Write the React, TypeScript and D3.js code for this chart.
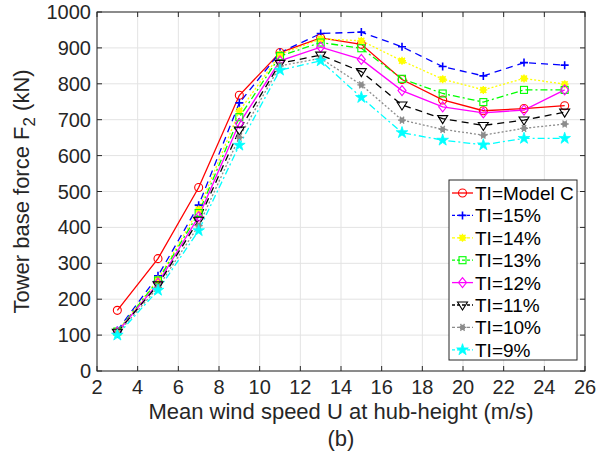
import React from 'react';
import * as d3 from 'd3';

const windSpeeds = [3, 5, 7, 9, 11, 13, 15, 17, 19, 21, 23, 25];
const modelC = [169, 313, 511, 768, 887, 928, 910, 812, 755, 725, 731, 739];
const ti15 = [113, 265, 462, 747, 887, 940, 944, 903, 848, 822, 859, 852];
const ti14 = [110, 255, 450, 724, 882, 925, 920, 864, 813, 783, 815, 799];
const ti13 = [110, 252, 440, 707, 877, 915, 899, 814, 773, 749, 783, 783];
const ti12 = [108, 245, 430, 690, 864, 902, 868, 781, 736, 719, 727, 783];
const ti11 = [108, 240, 420, 671, 857, 880, 834, 741, 703, 684, 699, 721];
const ti10 = [104, 233, 405, 651, 850, 871, 797, 699, 673, 657, 676, 688];
const ti9 = [100, 225, 391, 629, 838, 864, 762, 664, 643, 630, 648, 648];

const seriesNames = ['TI=Model C', 'TI=15%', 'TI=14%', 'TI=13%', 'TI=12%', 'TI=11%', 'TI=10%', 'TI=9%'];
const xTicks = [2, 4, 6, 8, 10, 12, 14, 16, 18, 20, 22, 24, 26];
const yTicks = [0, 100, 200, 300, 400, 500, 600, 700, 800, 900, 1000];

const styles = [
  { color: '#ff0000', dash: null, marker: 'circle' },
  { color: '#0000ff', dash: '7,5', marker: 'plus' },
  { color: '#ffff00', dash: '2,2', marker: 'asterisk' },
  { color: '#00ff00', dash: '7,3,2,3', marker: 'square' },
  { color: '#ff00ff', dash: null, marker: 'diamond' },
  { color: '#000000', dash: '7,5', marker: 'triangle' },
  { color: '#8c8c8c', dash: '2,2', marker: 'hexagram' },
  { color: '#00ffff', dash: '7,3,2,3', marker: 'star' },
];

const W = 598;
const H = 460;
const m = { left: 97, top: 12, right: 13, bottom: 89 };
const font = 'Liberation Sans, Arial, Helvetica, sans-serif';
const axisColor = '#262626';

const Marker = ({ type, x, y, color }: { type: string; x: number; y: number; color: string }) => {
  const r = 4;
  const t = `translate(${x},${y})`;
  if (type === 'circle') return <circle cx={x} cy={y} r={r} fill="none" stroke={color} strokeWidth={1.1} />;
  if (type === 'plus')
    return <path transform={t} d={`M${-r},0H${r}M0,${-r}V${r}`} stroke={color} strokeWidth={1.6} fill="none" />;
  if (type === 'asterisk')
    return (
      <g transform={t}>
        <path d={d3.symbol(d3.symbolCircle, 30)() as string} fill={color} />
        <path d={`M${-r},0H${r}M0,${-r}V${r}M-3,-3L3,3M-3,3L3,-3`} stroke={color} strokeWidth={1.4} />
      </g>
    );
  if (type === 'square')
    return <rect x={x - 3.5} y={y - 3.5} width={7} height={7} fill="none" stroke={color} strokeWidth={1.1} />;
  if (type === 'diamond')
    return <path transform={t} d={`M0,${-r - 1}L${r},0L0,${r + 1}L${-r},0Z`} fill="none" stroke={color} strokeWidth={1.1} />;
  if (type === 'triangle')
    return <path transform={t} d={`M${-r - 1},${-r + 1}L${r + 1},${-r + 1}L0,${r + 1}Z`} fill="none" stroke={color} strokeWidth={1.1} />;
  if (type === 'hexagram')
    return (
      <g transform={t}>
        <path d={d3.symbol(d3.symbolCircle, 22)() as string} fill={color} />
        <path d={`M${-r},0H${r}M-2,-3.5L2,3.5M-2,3.5L2,-3.5`} stroke={color} strokeWidth={1.3} />
      </g>
    );
  return <path transform={t} d={d3.symbol(d3.symbolStar, 42)() as string} fill={color} stroke={color} strokeWidth={0.8} />;
};

export default function App() {
  const series = [modelC, ti15, ti14, ti13, ti12, ti11, ti10, ti9];
  const x = d3.scaleLinear().domain([2, 26]).range([m.left, W - m.right]);
  const y = d3.scaleLinear().domain([0, 1000]).range([H - m.bottom, m.top]);
  const line = d3
    .line<number>()
    .x((_, i) => x(windSpeeds[i]))
    .y(d => y(d));

  const x0 = x(2), x1 = x(26), y0 = y(0), y1 = y(1000);
  const legX = 449, legY = 180, legW = 128, legH = 180, legStep = 22.4;

  return (
    <svg width={W} height={H} style={{ position: 'absolute', left: 0, top: 0, background: '#fff' }} fontFamily={font}>
      <rect width={W} height={H} fill="#fff" />
      {/* grid */}
      {xTicks.map(t => (
        <line key={'gx' + t} x1={x(t)} x2={x(t)} y1={y0} y2={y1} stroke="#e3e3e3" strokeWidth={1} />
      ))}
      {yTicks.map(t => (
        <line key={'gy' + t} x1={x0} x2={x1} y1={y(t)} y2={y(t)} stroke="#e3e3e3" strokeWidth={1} />
      ))}

      {/* lines */}
      {series.map((s, i) => (
        <path
          key={'l' + i}
          d={line(s) as string}
          fill="none"
          stroke={styles[i].color}
          strokeWidth={1.3}
          strokeDasharray={styles[i].dash || undefined}
        />
      ))}
      {series.map((s, i) =>
        s.map((v, j) => (
          <Marker key={'m' + i + '-' + j} type={styles[i].marker} x={x(windSpeeds[j])} y={y(v)} color={styles[i].color} />
        ))
      )}

      {/* axes box and ticks */}
      <rect x={x0} y={y1} width={x1 - x0} height={y0 - y1} fill="none" stroke={axisColor} strokeWidth={1} />
      {xTicks.map(t => (
        <g key={'tx' + t}>
          <line x1={x(t)} x2={x(t)} y1={y0} y2={y0 - 5} stroke={axisColor} />
          <line x1={x(t)} x2={x(t)} y1={y1} y2={y1 + 5} stroke={axisColor} />
          <text x={x(t)} y={y0 + 23} fontSize={20} textAnchor="middle" fill={axisColor}>
            {t}
          </text>
        </g>
      ))}
      {yTicks.map(t => (
        <g key={'ty' + t}>
          <line x1={x0} x2={x0 + 5} y1={y(t)} y2={y(t)} stroke={axisColor} />
          <line x1={x1} x2={x1 - 5} y1={y(t)} y2={y(t)} stroke={axisColor} />
          <text x={x0 - 6} y={y(t) + 7} fontSize={20} textAnchor="end" fill={axisColor}>
            {t}
          </text>
        </g>
      ))}

      {/* axis labels */}
      <text x={(x0 + x1) / 2} y={419} fontSize={22} textAnchor="middle" fill={axisColor}>
        Mean wind speed U at hub-height (m/s)
      </text>
      <text x={(x0 + x1) / 2} y={446} fontSize={22} textAnchor="middle" fill={axisColor}>
        (b)
      </text>
      <text transform={`translate(29,${(y0 + y1) / 2}) rotate(-90)`} fontSize={22} textAnchor="middle" fill={axisColor}>
        Tower base force F<tspan dy={6} fontSize={17}>2</tspan>
        <tspan dy={-6}> (kN)</tspan>
      </text>

      {/* legend */}
      <rect x={legX} y={legY} width={legW} height={legH} fill="#fff" stroke={axisColor} strokeWidth={1} />
      {seriesNames.map((name, i) => {
        const ly = legY + 13 + i * legStep;
        return (
          <g key={'lg' + i}>
            <line
              x1={legX + 3}
              x2={legX + 24}
              y1={ly}
              y2={ly}
              stroke={styles[i].color}
              strokeWidth={1.3}
              strokeDasharray={styles[i].dash ? '3,2' : undefined}
            />
            <Marker type={styles[i].marker} x={legX + 13.5} y={ly} color={styles[i].color} />
            <text x={legX + 26} y={ly + 7} fontSize={19} fill="#000">
              {name}
            </text>
          </g>
        );
      })}
    </svg>
  );
}
